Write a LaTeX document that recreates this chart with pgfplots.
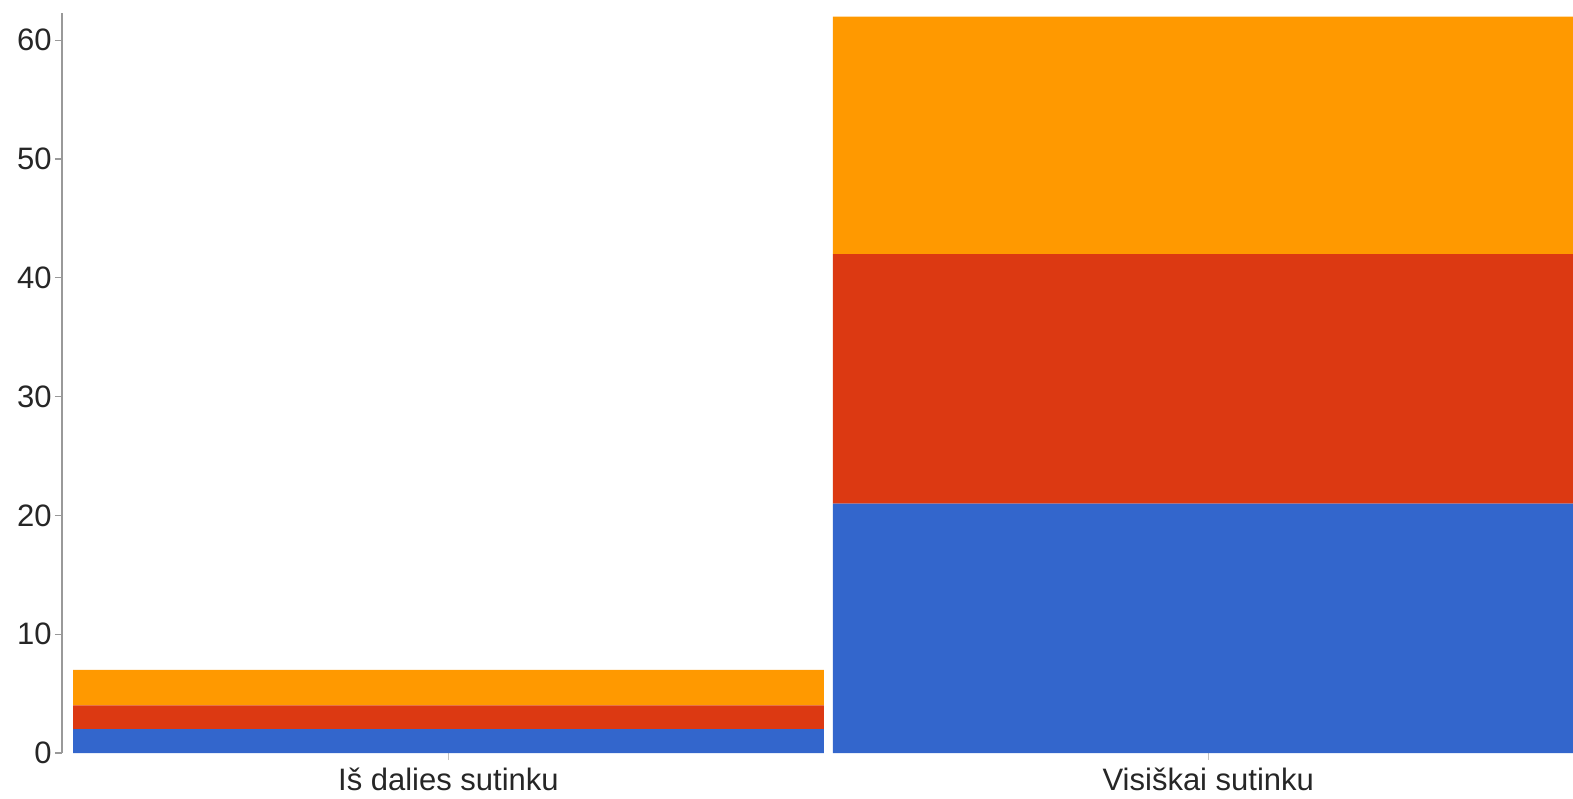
\documentclass[border=0pt]{standalone}
\usepackage{fontspec}
\setmainfont{Liberation Sans}
\usepackage{pgfplots}
\pgfplotsset{compat=1.18}
\definecolor{gblue}{HTML}{3366CC}
\definecolor{gred}{HTML}{DC3912}
\definecolor{gorange}{HTML}{FF9900}
\definecolor{axgray}{HTML}{999999}
\begin{document}
\begin{tikzpicture}
\begin{axis}[
  name=ax,
  scale only axis,
  width=755.5pt, height=370pt,
  xmin=-0.5086, xmax=1.480,
  ymin=0, ymax=62.3,
  ybar stacked,
  bar width=0.988,
  xtick={0,1},
  xticklabels={Iš dalies sutinku, Visiškai sutinku},
  ytick={0,10,20,30,40,50,60},
  axis y line*=left,
  axis x line*=bottom,
  x axis line style={draw=none},
  y axis line style={draw=axgray, line width=0.6pt},
  xtick style={draw=axgray!60, line width=0.5pt},
  ytick style={draw=axgray, line width=0.6pt},
  tick align=outside,
  major tick length=3.5pt,
  ticklabel style={font=\fontsize{15.5}{17}\selectfont, text=black!85},
  /pgf/number format/assume math mode=true,
  xticklabel style={yshift=-0.5pt},
  yticklabel style={xshift=1.8pt},
  clip=true,
]
\addplot[fill=gblue, draw=none] coordinates {(0,2) (1,21)};
\addplot[fill=gred, draw=none] coordinates {(0,2) (1,21)};
\addplot[fill=gorange, draw=none] coordinates {(0,3) (1,20)};
\end{axis}
\pgfresetboundingbox
\path (ax.south west) ++(-31pt,-22.5pt) rectangle ++(786.5pt,399pt);
\end{tikzpicture}
\end{document}
